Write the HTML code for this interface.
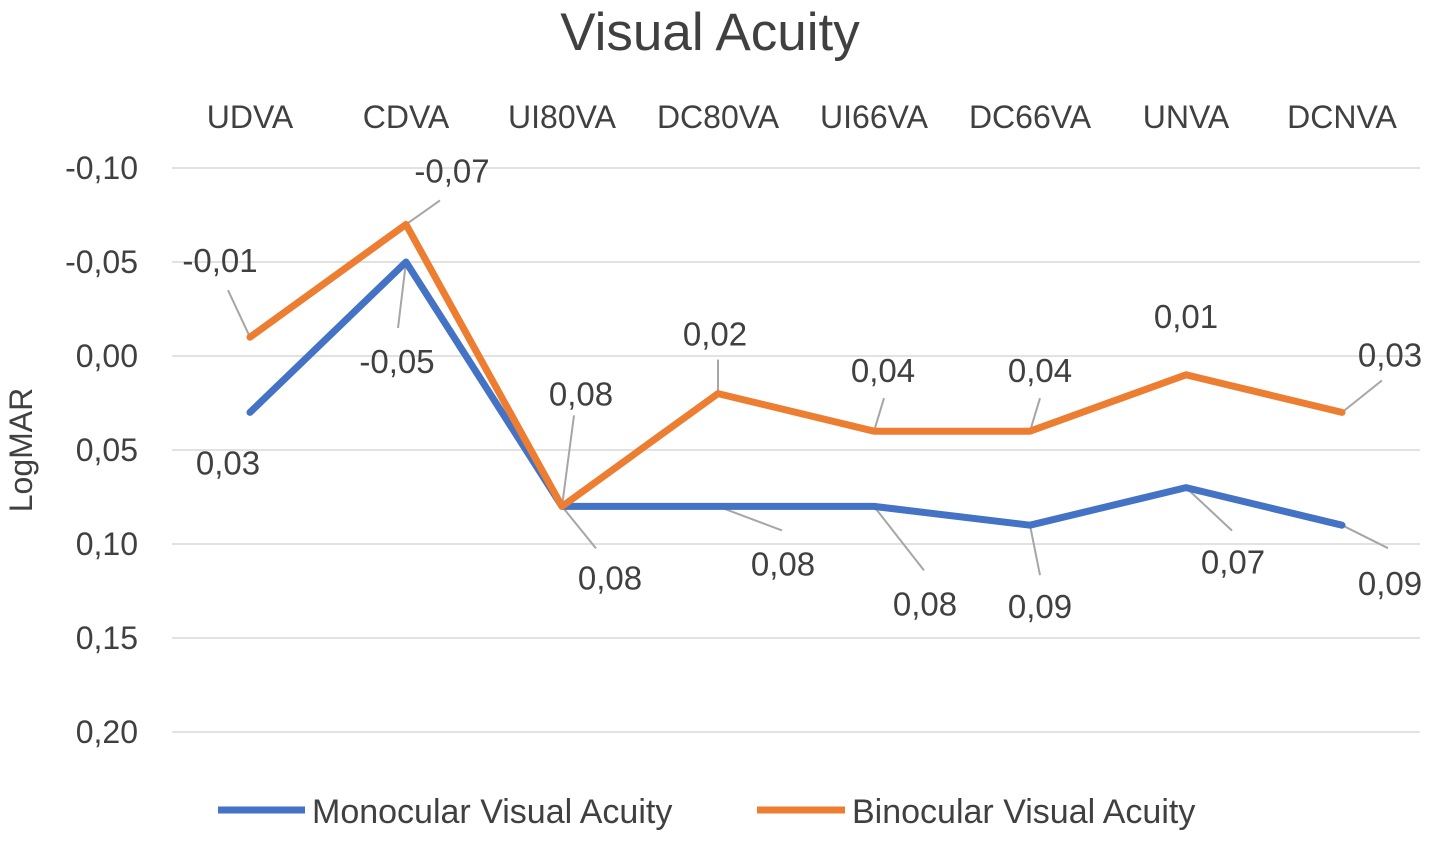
<!DOCTYPE html>
<html><head><meta charset="utf-8"><style>
body{margin:0;background:#fff;}
svg text{font-family:"Liberation Sans",sans-serif;fill:#404040;}
</style></head><body>
<svg width="1429" height="838" viewBox="0 0 1429 838">
<text x="710" y="50" font-size="53" text-anchor="middle" fill="#595959">Visual Acuity</text>
<text x="32" y="450" font-size="32" text-anchor="middle" transform="rotate(-90 32 450)">LogMAR</text>
<g id="grid"></g><g id="yticks"></g><g id="xcats"></g><g id="leaders"></g><g id="series"></g><g id="labels"></g>
<g>
<line x1="218" y1="810" x2="305" y2="810" stroke="#4472C4" stroke-width="7"/>
<text x="312" y="823" font-size="34">Monocular Visual Acuity</text>
<line x1="757" y1="810" x2="845" y2="810" stroke="#ED7D31" stroke-width="7"/>
<text x="852" y="823" font-size="34">Binocular Visual Acuity</text>
</g>
</svg>
<script>
const categories=["UDVA","CDVA","UI80VA","DC80VA","UI66VA","DC66VA","UNVA","DCNVA"];
const monocular=[0.03,-0.05,0.08,0.08,0.08,0.09,0.07,0.09];
const binocular=[-0.01,-0.07,0.08,0.02,0.04,0.04,0.01,0.03];
const yTicks=[-0.10,-0.05,0.00,0.05,0.10,0.15,0.20];
const NS="http://www.w3.org/2000/svg";
const x0=172,step=156;
function xs(i){return x0+step*(i+0.5);}
function ys(v){return 356+v*1880;}
function mk(t,a,p){const e=document.createElementNS(NS,t);for(const k in a)e.setAttribute(k,a[k]);p.appendChild(e);return e;}
function fmt(v){return v.toFixed(2).replace('.',',').replace('-0,00','0,00');}
const grid=document.getElementById('grid'),yt=document.getElementById('yticks');
yTicks.forEach(v=>{
 const l=mk('line',{x1:172,x2:1420,y1:ys(v),y2:ys(v),stroke:'#d9d9d9','stroke-width':1.5},grid);
 
 
 const t=mk('text',{x:138,y:ys(v)+11,'font-size':32,'text-anchor':'end'},yt);
 t.textContent=fmt(v);
 
 
});
const xc=document.getElementById('xcats');
categories.forEach((c,i)=>{
 const t=mk('text',{x:xs(i),y:128,'font-size':32,'text-anchor':'middle'},xc);
 t.textContent=c;
 
 
});
const bOff=[[-30,-66],[46,-43],[19,-102],[-3,-49],[9,-50],[10,-50],[0,-48],[48,-47]];
const bLead=[[-22,-47],[34,-24],[12,-91],[0,-34],[10,-33],[10,-33],[0,0],[40,-32]];
const mOff=[[-22,61],[-9,110],[48,82],[65,68],[51,108],[10,92],[47,85],[48,69]];
const mLead=[[0,0],[-8,66],[34,42],[64,24],[50,64],[10,50],[46,43],[46,23]];
const lead=document.getElementById('leaders'),lab=document.getElementById('labels'),ser=document.getElementById('series');
function series(vals,color,off,ld,name){
 vals.forEach((v,i)=>{
  const px=xs(i),py=ys(v);
  if(ld[i][0]||ld[i][1]){
   const l=mk('line',{x1:px,y1:py,x2:px+ld[i][0],y2:py+ld[i][1],stroke:'#a6a6a6','stroke-width':2},lead);
   
   
  }
  const t=mk('text',{x:px+off[i][0],y:py+off[i][1]+1,'font-size':33,'text-anchor':'middle'},lab);
  t.textContent=fmt(v);
  
  
 });
 const p=mk('polyline',{points:vals.map((v,i)=>xs(i)+','+ys(v)).join(' '),fill:'none',stroke:color,'stroke-width':7,'stroke-linejoin':'round','stroke-linecap':'round'},ser);
 
 
}
series(monocular,'#4472C4',mOff,mLead,'monocular');
series(binocular,'#ED7D31',bOff,bLead,'binocular');
</script>
</body></html>
